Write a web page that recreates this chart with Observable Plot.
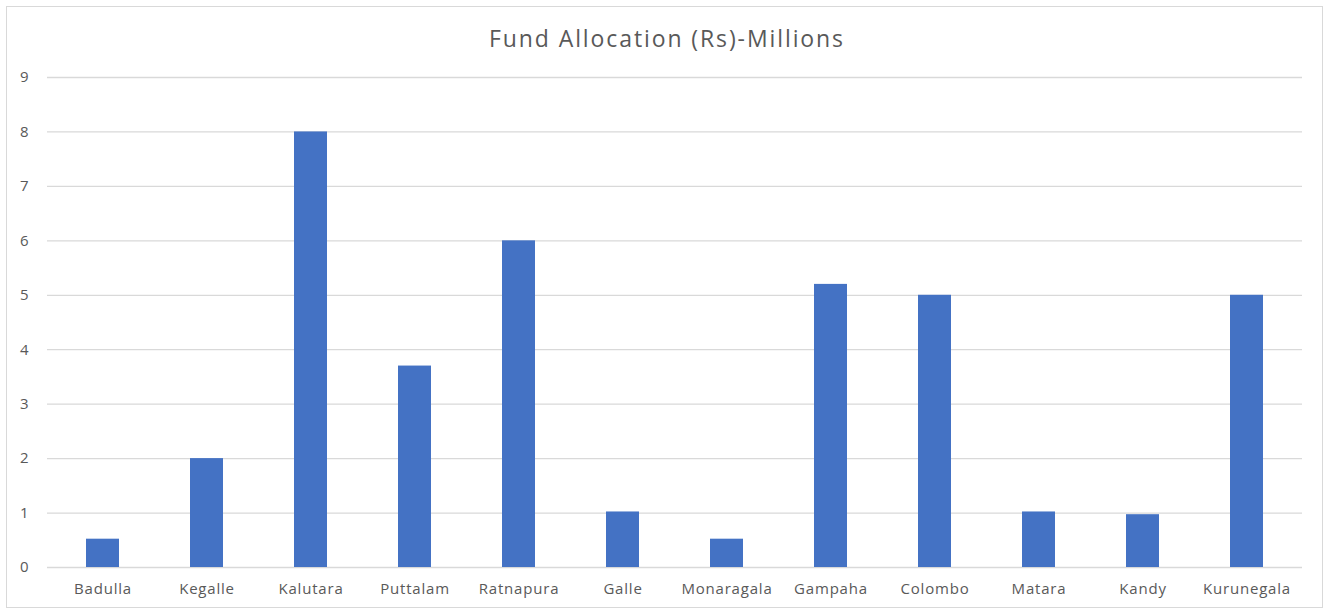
<!DOCTYPE html>
<html>
<head>
<meta charset="utf-8">
<script src="https://cdn.jsdelivr.net/npm/d3@7"></script>
<script src="https://cdn.jsdelivr.net/npm/@observablehq/plot@0.6"></script>
<style>
  html, body { margin: 0; padding: 0; background: #fff; }
  #wrap { position: relative; width: 1326px; height: 610px; overflow: hidden; }
  #frame { position: absolute; left: 6px; top: 6px; width: 1317px; height: 602px; border: 1px solid #d9d9d9; box-sizing: border-box; pointer-events: none; }
  #title { position: absolute; left: 0; width: 1334px; top: 22px; text-align: center; font-family: "Open Sans", sans-serif; font-size: 23px; letter-spacing: 1.9px; color: #595959; }
  #chart { position: absolute; left: 0; top: 0; }
</style>
</head>
<body>
<div id="wrap">
  <div id="chart"></div>
  <div id="frame"></div>
  <div id="title">Fund Allocation (Rs)-Millions</div>
</div>
<script>
const districts = ["Badulla","Kegalle","Kalutara","Puttalam","Ratnapura","Galle","Monaragala","Gampaha","Colombo","Matara","Kandy","Kurunegala"];
const allocation = [0.52, 2, 8, 3.7, 6, 1.02, 0.52, 5.2, 5, 1.02, 0.97, 5];
const yTicks = [0,1,2,3,4,5,6,7,8,9];

const data = districts.map((d, i) => ({district: d, value: allocation[i]}));

const chart = Plot.plot({
  width: 1326,
  height: 610,
  marginTop: 77,
  marginBottom: 43,
  marginLeft: 47,
  marginRight: 24,
  style: {fontFamily: "Open Sans, sans-serif", fontSize: "15px", letterSpacing: "0.8px", color: "#595959", background: "transparent"},
  x: {domain: districts, paddingInner: 0.685, paddingOuter: 0.3425, align: 0.5, label: null},
  y: {domain: [0, 9], label: null},
  marks: [
    Plot.ruleY(yTicks, {stroke: "#d9d9d9", strokeWidth: 1.3}),
    Plot.barY(data, {x: "district", y: "value", fill: "#4472C4"}),
    Plot.axisY({ticks: yTicks, tickSize: 0, tickPadding: 18, label: null, fill: "#595959", fontSize: 15}),
    Plot.axisX({tickSize: 0, tickPadding: 16, label: null, fill: "#595959", fontSize: 15})
  ]
});
document.getElementById("chart").appendChild(chart);
</script>
</body>
</html>
